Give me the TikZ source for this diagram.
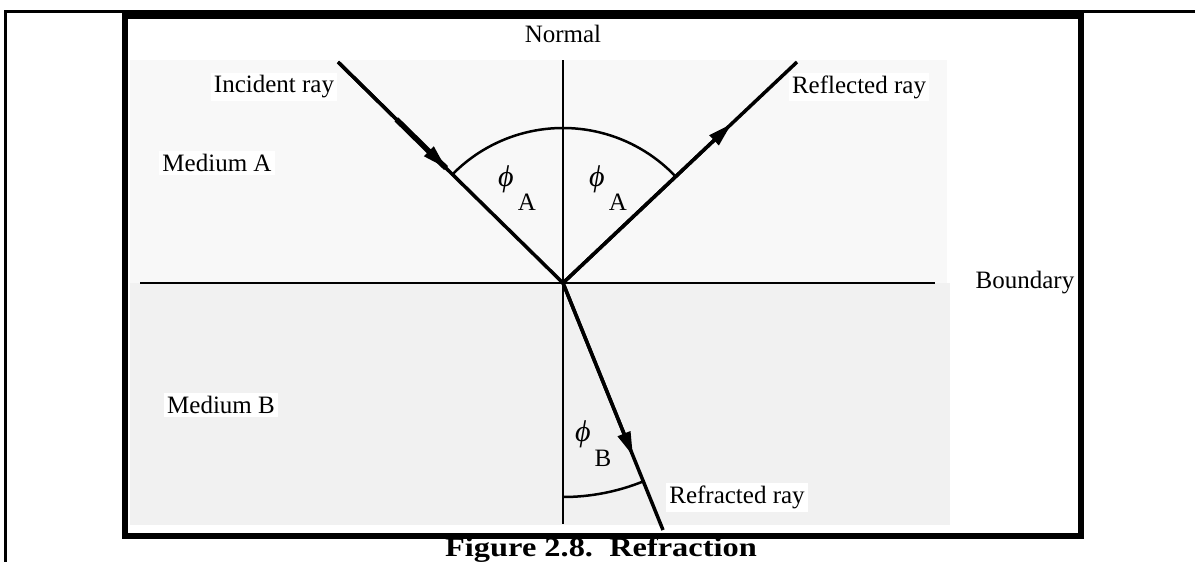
\documentclass[tikz,border=0pt]{standalone}
\usepackage{fontspec}
\setmainfont{Liberation Serif}
\usetikzlibrary{arrows.meta,calc}
\definecolor{greyA}{HTML}{F8F8F8}
\definecolor{greyB}{HTML}{F1F1F1}
\begin{document}
\begin{tikzpicture}[x=1pt,y=-1pt,
  lbl/.style={fill=white, inner sep=3pt, font=\fontsize{25}{30}\selectfont},
  sym/.style={inner sep=0pt, font=\fontsize{30}{30}\selectfont\itshape},
  sub/.style={inner sep=0pt, font=\fontsize{25}{30}\selectfont},
  ray/.style={line width=3.5pt},
  axis/.style={line width=2.5pt},
  anglearc/.style={line width=2.5pt},
  tip/.style={-{Triangle[length=24pt,width=13pt]}},
  frame/.style={line width=6pt}]
\useasboundingbox (0,0) rectangle (1195,562);
% page frame
\draw[line width=3pt] (5,570) -- (5,11.5) -- (1200,11.5);
% media
\fill[greyA] (130,60) rectangle (947,283);
\fill[greyB] (130,283) rectangle (950,525);
\draw[frame] (125,16) rectangle (1081,536);
% geometry
\coordinate (O) at (563,283);
\coordinate (inc) at (338,62);
\coordinate (refl) at (797,62);
\coordinate (refr) at (663,530);
\coordinate (ntop) at (563,60);
\coordinate (nbot) at (563,524);
\coordinate (bleft) at (140,283);
\coordinate (bright) at (935,283);
\coordinate (incmid) at ($(inc)!0.26!(O)$);
\coordinate (inctip) at ($(inc)!0.48!(O)$);
\coordinate (refltip) at ($(O)!0.72!(refl)$);
\coordinate (refrtip) at ($(O)!0.70!(refr)$);
% axes
\draw[axis] (ntop) -- (nbot);
\draw[axis] (bleft) -- (bright);
% arcs
\draw[anglearc] ($(O)+(-136:155)$) arc[start angle=-136, end angle=-44, radius=155];
\draw[anglearc] ($(O)+(90:214)$) arc[start angle=90, end angle=68, radius=214];
% rays
\draw[ray] (inc) -- (O);
\draw[line width=5.5pt] (incmid) -- (inctip);
\draw[ray,tip] (inc) -- (inctip);
\draw[ray] (O) -- (refl);
\draw[ray,tip] (O) -- (refltip);
\draw[ray] (O) -- (refr);
\draw[ray,tip] (O) -- (refrtip);
% labels
\node[lbl,fill=none] (normal) at (563,34) {Normal};
\node[lbl] (incl) at (274,87) {Incident ray};
\node[lbl] (refll) at (859,87) {Reflected ray};
\node[lbl] (ma) at (217,163) {Medium A};
\node[lbl,fill=none] (bd) at (1025,283) {Boundary};
\node[lbl] (mb) at (221,405) {Medium B};
\node[lbl] (refrl) at (737,497) {Refracted ray};
\node[sym] (phiA1) at (506,179) {ϕ};
\node[sub] (subA1) at (527,202) {A};
\node[sym] (phiA2) at (597,179) {ϕ};
\node[sub] (subA2) at (618,202) {A};
\node[sym] (phiB) at (583,434) {ϕ};
\node[sub] (subB) at (603,458) {B};
\node[font=\bfseries\fontsize{27}{30}\selectfont, inner sep=0pt, anchor=base] (cap) at (601,556) {\scalebox{1.2}[1]{Figure 2.8.\ \ Refraction}};
\end{tikzpicture}
\end{document}
